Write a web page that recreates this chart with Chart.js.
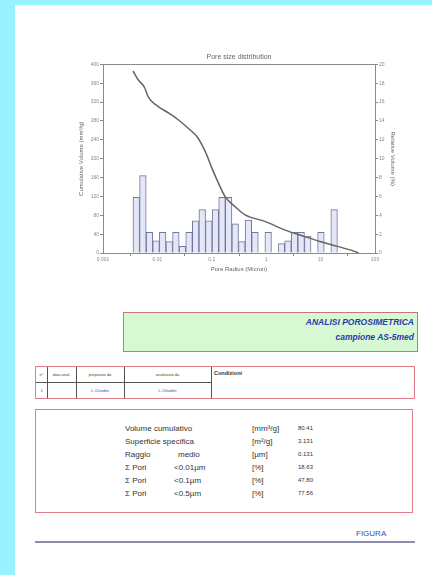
<!DOCTYPE html>
<html>
<head>
<meta charset="utf-8">
<script src="https://cdn.jsdelivr.net/npm/chart.js@4"></script>
<style>
  html, body { margin: 0; padding: 0; width: 432px; height: 575px; overflow: hidden; background: #98f3fe; }
  body { position: relative; font-family: "Liberation Sans", Arial, sans-serif; }
  .abs { position: absolute; }
  #page { left: 15px; top: 5px; width: 417px; height: 570px; background: #ffffff; }
  #chartBox { left: 78px; top: 45px; width: 319px; height: 228px; }
  #header { left: 123px; top: 312px; width: 293px; height: 38px; background: #d6f9d3; border: 1.5px solid #c47878; }
  #header div { position: absolute; right: 3px; font-weight: bold; font-style: italic; font-size: 8.5px; color: #2b3aa8; white-space: nowrap; }
  #table { left: 35px; top: 366px; width: 378px; height: 31px; border: 1.5px solid #e07c8c; }
  .vline { position: absolute; top: 0; width: 1px; height: 31px; background: #555; }
  .hline { position: absolute; height: 1px; background: #555; }
  .cell { position: absolute; font-size: 4px; color: #444; text-align: center; white-space: nowrap; }
  #stats { left: 35px; top: 409px; width: 376px; height: 102px; border: 1.5px solid #e07c8c; }
  .st { position: absolute; font-size: 8px; color: #333; white-space: nowrap; }
  #figura { left: 356px; top: 529px; font-size: 8px; color: #3a4ab8; }
  #rule { left: 35px; top: 541px; width: 380px; height: 2px; background: #8c8cb0; }
</style>
</head>
<body>
<div id="page" class="abs"></div>
<div id="chartBox" class="abs"><canvas id="c"></canvas></div>

<div id="header" class="abs">
  <div style="top:4px">ANALISI POROSIMETRICA</div>
  <div style="top:19px">campione AS-5med</div>
</div>

<div id="table" class="abs">
  <div class="vline" style="left:11px"></div>
  <div class="vline" style="left:40px"></div>
  <div class="vline" style="left:88px"></div>
  <div class="vline" style="left:175px"></div>
  <div class="hline" style="left:0;top:15px;width:175px"></div>
  <div class="cell" style="left:0;width:11px;top:5px">n°</div>
  <div class="cell" style="left:11px;width:29px;top:5px">data anal.</div>
  <div class="cell" style="left:40px;width:48px;top:5px">preparato da</div>
  <div class="cell" style="left:88px;width:87px;top:5px">analizzato da</div>
  <div class="cell" style="left:0;width:11px;top:21px">1</div>
  <div class="cell" style="left:40px;width:48px;top:21px;color:#3a4ab8">L.Chiodini</div>
  <div class="cell" style="left:88px;width:87px;top:21px;color:#3a4ab8">L.Chiodini</div>
  <div class="cell" style="left:178px;top:3px;font-size:5.5px;font-weight:bold;color:#333;text-align:left">Condizioni</div>
</div>

<div id="stats" class="abs"></div>
<div id="statsText"></div>

<div id="figura" class="abs">FIGURA</div>
<div id="rule" class="abs"></div>

<script>
// Histogram bins: pore radius at bin centre (µm) and relative volume (%)
const binRadius = [0.004092, 0.005411, 0.007153, 0.009458, 0.01250, 0.01653, 0.02185, 0.02888,
  0.03819, 0.05047, 0.06674, 0.08820, 0.1166, 0.1542, 0.2038, 0.2694, 0.3561, 0.4708,
  0.6222, 0.8227, 1.087, 1.437, 1.900, 2.512, 3.320, 4.389, 5.801, 7.669, 10.14, 13.41, 17.72];
const relVolume = [5.9, 8.2, 2.2, 1.3, 2.2, 1.2, 2.2, 0.7, 2.2, 3.4, 4.6, 3.4, 4.6, 5.9, 5.9, 3.1,
  1.2, 3.5, 2.2, 0, 2.2, 0, 1.0, 1.3, 2.2, 2.2, 1.8, 0, 2.2, 0, 4.6];

// Cumulative curve: pore radius (µm) and cumulative volume (mm³/g)
const cumRadius = [0.00356, 0.00439, 0.0058, 0.00667, 0.00767, 0.01087, 0.0165, 0.0251, 0.0382,
  0.0541, 0.0767, 0.1014, 0.134, 0.177, 0.269, 0.409, 0.946, 2.18, 5.05, 10.1, 20.4, 40.9, 50.5];
const cumVolume = [386, 368, 351, 333, 323, 309, 296, 281, 263, 246, 214, 179, 147, 119, 98, 81,
  67, 49, 35, 24, 14, 4, 0];

// Axis ticks
const radiusTicks = [0.001, 0.01, 0.1, 1, 10, 100];
const radiusTickLabels = ['0.001', '0.01', '0.1', '1', '10', '100'];

// Summary table
const statLabels = ['Volume cumulativo', 'Superficie specifica', 'Raggio', 'Σ Pori', 'Σ Pori', 'Σ Pori'];
const statQualifiers = ['', '', 'medio', '<0.01µm', '<0.1µm', '<0.5µm'];
const statUnits = ['[mm³/g]', '[m²/g]', '[µm]', '[%]', '[%]', '[%]'];
const statValues = ['80.41', '3.131', '0.131', '18.63', '47.80', '77.56'];

// Build summary rows
const holder = document.getElementById('statsText');
statLabels.forEach((lab, i) => {
  const top = 424 + i * 13;
  const mk = (txt, css) => {
    const d = document.createElement('div');
    d.className = 'abs st';
    d.textContent = txt;
    d.style.cssText += css + 'top:' + top + 'px;';
    holder.appendChild(d);
  };
  mk(lab, 'left:125px;');
  if (statQualifiers[i]) mk(statQualifiers[i], 'left:' + (i === 2 ? 178 : 174) + 'px;');
  mk(statUnits[i], 'left:252px;');
  mk(statValues[i], 'right:' + (432 - 313) + 'px;font-size:6px;margin-top:1px;');
});

const axisColor = '#8a8a8a';
const tickFont = { family: 'Liberation Sans', size: 5 };
const titleFont = { family: 'Liberation Sans', size: 6 };
const decadeTicks = s => { s.ticks = radiusTicks.map(v => ({ value: v })); };

new Chart(document.getElementById('c'), {
  type: 'bar',
  data: {
    datasets: [
      {
        type: 'line',
        order: 0,
        xAxisID: 'x',
        yAxisID: 'y',
        data: cumRadius.map((r, i) => ({ x: r, y: cumVolume[i] })),
        borderColor: '#646464',
        borderWidth: 1.5,
        pointRadius: 0,
        cubicInterpolationMode: 'monotone',
        fill: false
      },
      {
        type: 'bar',
        order: 1,
        xAxisID: 'x',
        yAxisID: 'y1',
        data: binRadius.map((r, i) => ({ x: r, y: relVolume[i] })),
        backgroundColor: '#e4e7f7',
        borderColor: '#72759a',
        borderWidth: 1,
        borderSkipped: 'start',
        barPercentage: 1,
        categoryPercentage: 1
      }
    ]
  },
  options: {
    responsive: true,
    maintainAspectRatio: false,
    animation: false,
    devicePixelRatio: 1,
    layout: { padding: 0 },
    plugins: {
      legend: { display: false },
      tooltip: { enabled: false },
      title: {
        display: true,
        text: 'Pore size distribution',
        fullSize: false,
        color: '#666',
        font: { family: 'Liberation Sans', size: 7, weight: 'normal' },
        padding: { top: 8, bottom: 3 }
      }
    },
    scales: {
      x: {
        type: 'logarithmic',
        position: 'bottom',
        min: 0.001,
        max: 100,
        afterBuildTicks: decadeTicks,
        afterFit: s => { s.height = 20; },
        border: { color: axisColor, width: 1 },
        grid: { drawOnChartArea: false, tickLength: 3, color: axisColor },
        ticks: {
          autoSkip: false,
          maxRotation: 0,
          padding: 1,
          color: '#888',
          font: tickFont,
          callback: (v) => {
            const k = radiusTicks.indexOf(v);
            return k >= 0 ? radiusTickLabels[k] : '';
          }
        },
        title: { display: true, text: 'Pore Radius (Micron)', color: '#666', font: titleFont, padding: { top: 2, bottom: 0 } }
      },
      xt: {
        type: 'logarithmic',
        position: 'top',
        min: 0.001,
        max: 100,
        afterBuildTicks: decadeTicks,
        afterFit: s => { s.height = 0; },
        border: { color: axisColor, width: 1 },
        grid: { drawOnChartArea: false, drawTicks: false },
        ticks: { display: false }
      },
      y: {
        position: 'left',
        min: 0,
        max: 400,
        afterFit: s => { s.width = 25; },
        border: { color: axisColor, width: 1 },
        grid: { drawOnChartArea: false, tickLength: 3, color: axisColor },
        ticks: { stepSize: 40, padding: 1, color: '#888', font: tickFont },
        title: { display: true, text: 'Cumulative Volume (mm³/g)', color: '#666', font: titleFont, padding: { top: 0, bottom: 1 } }
      },
      y1: {
        position: 'right',
        min: 0,
        max: 20,
        afterFit: s => { s.width = 22; },
        border: { color: axisColor, width: 1 },
        grid: { drawOnChartArea: false, tickLength: 3, color: axisColor },
        ticks: { stepSize: 2, padding: 1, color: '#888', font: tickFont },
        title: { display: true, text: 'Relative Volume (%)', color: '#666', font: titleFont, padding: { top: 1, bottom: 0 } }
      }
    }
  }
});
</script>
</body>
</html>
